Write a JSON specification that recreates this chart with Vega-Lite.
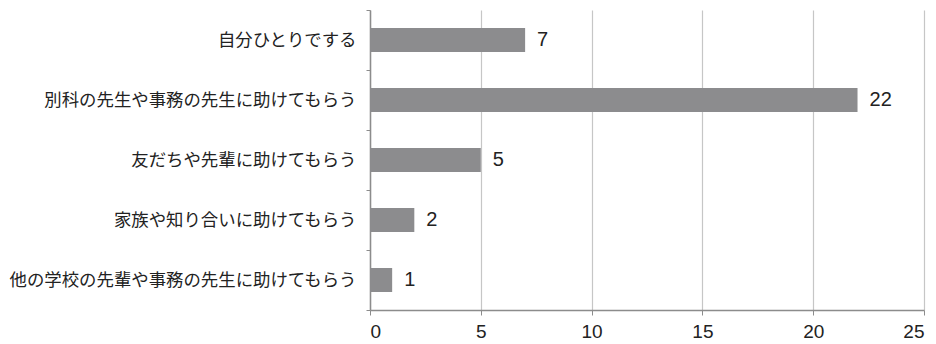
{
  "$schema": "https://vega.github.io/schema/vega-lite/v6.json",
  "width": 554,
  "height": 300,
  "autosize": {"type": "none"},
  "padding": {"left": 370, "top": 10, "right": 12, "bottom": 34},
  "background": "white",
  "config": {"view": {"stroke": null}},
  "data": {"values": [
    {"item": "自分ひとりでする", "count": 7},
    {"item": "別科の先生や事務の先生に助けてもらう", "count": 22},
    {"item": "友だちや先輩に助けてもらう", "count": 5},
    {"item": "家族や知り合いに助けてもらう", "count": 2},
    {"item": "他の学校の先輩や事務の先生に助けてもらう", "count": 1}
  ]},
  "encoding": {
    "y": {"field": "item", "type": "nominal", "sort": null,
      "scale": {"paddingInner": 0, "paddingOuter": 0},
      "axis": {"title": null, "tickBand": "extent", "tickSize": 4, "tickColor": "#8c8c8c",
        "domainColor": "#8c8c8c", "domainWidth": 1.5, "labelPadding": 10, "labelFontSize": 17.4,
        "labelFont": "Noto Sans CJK JP", "labelColor": "#222222", "labelLimit": 400}},
    "x": {"field": "count", "type": "quantitative",
      "scale": {"domain": [0, 25], "nice": false},
      "axis": {"title": null, "values": [0, 5, 10, 15, 20, 25], "grid": true, "gridColor": "#c6c6c6",
        "gridWidth": 1.2, "domainColor": "#8c8c8c", "domainWidth": 1.5, "tickColor": "#8c8c8c",
        "tickSize": 5, "labelFontSize": 19, "labelFont": "Liberation Sans", "labelColor": "#222222",
        "labelPadding": 7}}
  },
  "layer": [
    {"mark": {"type": "bar", "color": "#8c8c8e", "height": {"band": 0.4}}},
    {"mark": {"type": "text", "align": "left", "dx": 12, "fontSize": 20, "font": "Liberation Sans", "color": "#222222"},
      "encoding": {"text": {"field": "count", "type": "quantitative"}}}
  ]
}
